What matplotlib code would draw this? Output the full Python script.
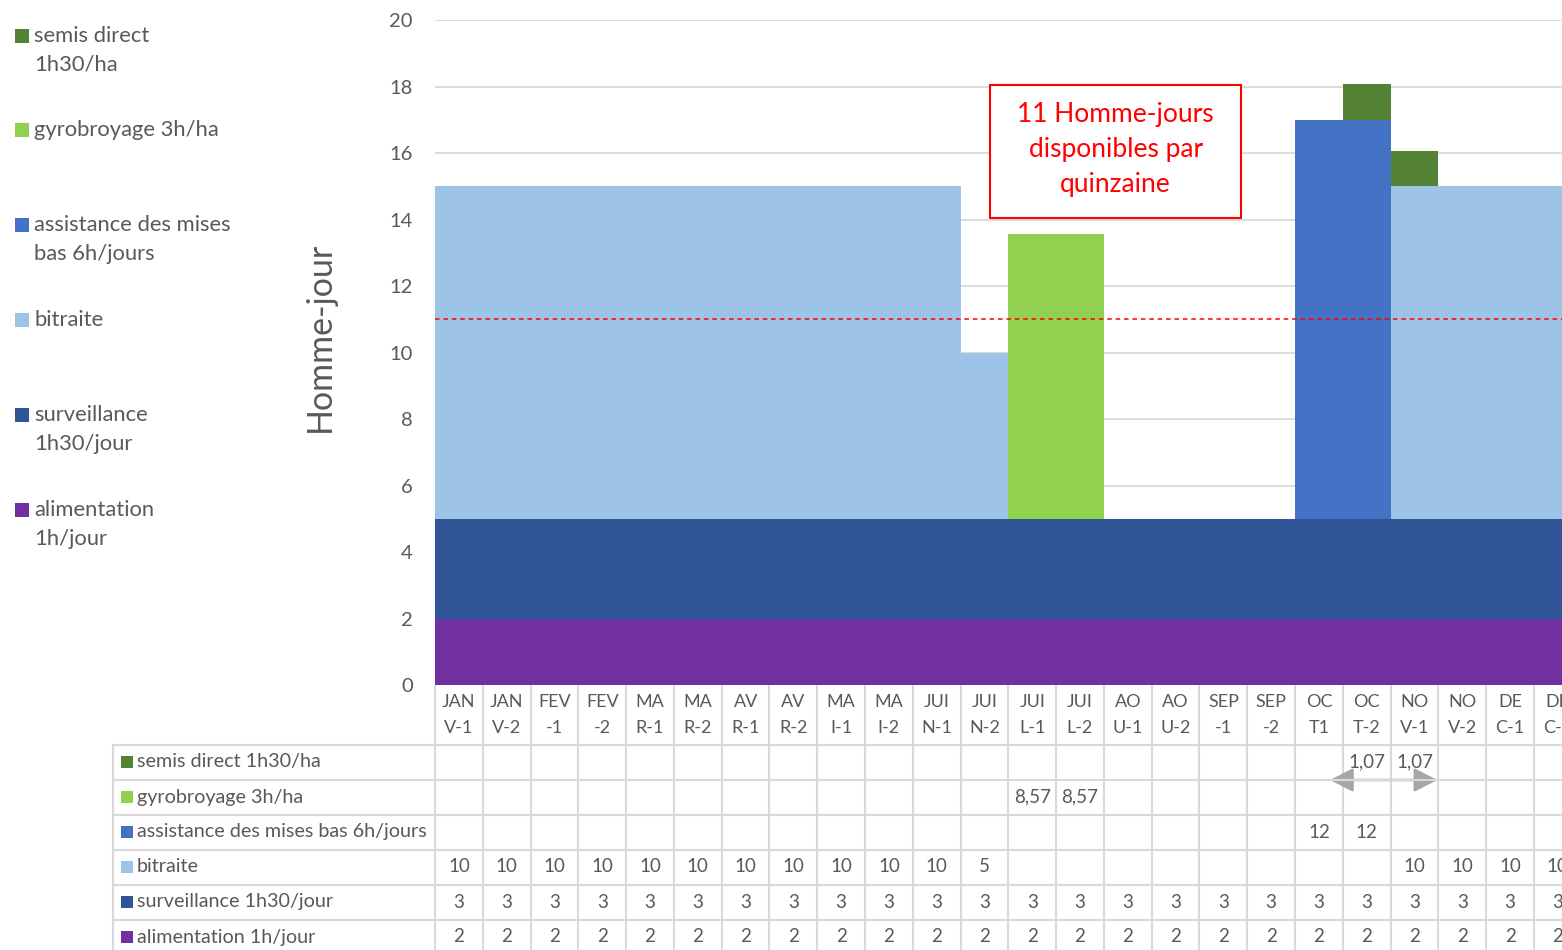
import numpy as np
import matplotlib
matplotlib.use("Agg")
import matplotlib.pyplot as plt
from matplotlib.patches import Rectangle
from matplotlib.lines import Line2D

plt.rcParams["font.family"] = ["Lato", "DejaVu Sans"]

N = None
categories = ["JANV-1", "JANV-2", "FEV-1", "FEV-2", "MAR-1", "MAR-2", "AVR-1", "AVR-2",
              "MAI-1", "MAI-2", "JUIN-1", "JUIN-2", "JUIL-1", "JUIL-2", "AOU-1", "AOU-2",
              "SEP-1", "SEP-2", "OCT1", "OCT-2", "NOV-1", "NOV-2", "DEC-1", "DEC-2"]
tick_labels = ["JAN\nV-1", "JAN\nV-2", "FEV\n-1", "FEV\n-2", "MA\nR-1", "MA\nR-2", "AV\nR-1", "AV\nR-2",
               "MA\nI-1", "MA\nI-2", "JUI\nN-1", "JUI\nN-2", "JUI\nL-1", "JUI\nL-2", "AO\nU-1", "AO\nU-2",
               "SEP\n-1", "SEP\n-2", "OC\nT1", "OC\nT-2", "NO\nV-1", "NO\nV-2", "DE\nC-1", "DE\nC-2"]

alimentation = [2, 2, 2, 2, 2, 2, 2, 2, 2, 2, 2, 2, 2, 2, 2, 2, 2, 2, 2, 2, 2, 2, 2, 2]
surveillance = [3, 3, 3, 3, 3, 3, 3, 3, 3, 3, 3, 3, 3, 3, 3, 3, 3, 3, 3, 3, 3, 3, 3, 3]
bitraite = [10, 10, 10, 10, 10, 10, 10, 10, 10, 10, 10, 5, N, N, N, N, N, N, N, N, 10, 10, 10, 10]
assistance = [N, N, N, N, N, N, N, N, N, N, N, N, N, N, N, N, N, N, 12, 12, N, N, N, N]
gyrobroyage = [N, N, N, N, N, N, N, N, N, N, N, N, 8.57, 8.57, N, N, N, N, N, N, N, N, N, N]
semis = [N, N, N, N, N, N, N, N, N, N, N, N, N, N, N, N, N, N, N, 1.07, 1.07, N, N, N]

capacity = 11

# stacking order bottom -> top
series = [
    ("alimentation 1h/jour", "alimentation\n1h/jour", alimentation, "#7030A0"),
    ("surveillance 1h30/jour", "surveillance\n1h30/jour", surveillance, "#2F5597"),
    ("bitraite", "bitraite", bitraite, "#9DC3E6"),
    ("assistance des mises bas 6h/jours", "assistance des mises\nbas 6h/jours", assistance, "#4472C4"),
    ("gyrobroyage 3h/ha", "gyrobroyage 3h/ha", gyrobroyage, "#92D050"),
    ("semis direct 1h30/ha", "semis direct\n1h30/ha", semis, "#548235"),
]

TXT = "#595959"
GRID = "#D9D9D9"
W, H = 1562, 950
COL = 47.78


def fx(px):
    return px / W


def fy(py):
    return 1 - py / H


def ay(py):
    # pixel row -> axes fraction
    return (685 - py) / 665


fig = plt.figure(figsize=(W / 100, H / 100), dpi=100)
ax = fig.add_axes([fx(435), fy(685), 24 * COL / W, 665 / H])

x = np.arange(len(categories))
bottom = np.zeros(len(categories))
for _, _, vals, color in series:
    v = np.array([0 if a is None else a for a in vals], dtype=float)
    ax.bar(x, v, width=1.0, bottom=bottom, color=color, linewidth=0, zorder=2)
    bottom += v

ax.axhline(capacity, color="#FF0000", lw=1.1, ls=(0, (3, 2.5)), zorder=3)

ax.set_xlim(-0.5, len(categories) - 0.5)
ax.set_ylim(0, 20)
ax.set_yticks(range(0, 21, 2))
ax.set_xticks([])
ax.yaxis.grid(True, color=GRID, lw=1.3)
ax.set_axisbelow(True)
ax.tick_params(axis="y", length=0, pad=16, labelsize=14.5, labelcolor=TXT)
for s in ax.spines.values():
    s.set_visible(False)

fig.text(fx(320), fy(337), "Homme-jour", rotation=90, fontsize=24.5, color=TXT,
         ha="center", va="center")

# annotation box
ax.add_patch(Rectangle((11.12, 14.05), 5.25, 4.0, facecolor="white", edgecolor="#FF0000",
                       lw=1.5, zorder=4))
ax.text(13.745, 16.1, "11 Homme-jours\ndisponibles par\nquinzaine", color="#FF0000",
        fontsize=19, ha="center", va="center", linespacing=1.5, zorder=5)

# legend on the left
leg_y = [36, 130, 225, 320, 415, 510]
for (lab, leg_lab, vals, color), py in zip(series[::-1], leg_y):
    fig.patches.append(Rectangle((fx(15), fy(py + 7)), 14 / W, 14 / H, facecolor=color,
                                 edgecolor="none", transform=fig.transFigure, figure=fig))
    fig.text(fx(34), fy(py - 10), leg_lab, fontsize=15.8, color=TXT, ha="left", va="top",
             linespacing=1.55)

# data table
xt = ax.get_xaxis_transform()
for i, lab in enumerate(tick_labels):
    ax.text(i, ay(715), lab, transform=xt, ha="center", va="center", fontsize=13,
            color=TXT, linespacing=1.75, clip_on=False)

ax.vlines(np.arange(len(categories)) - 0.5, ay(955), 0, transform=xt, colors=GRID,
          lw=1.5, clip_on=False)
row_lines = [745, 780, 815, 850, 885, 920]
for py in row_lines:
    fig.add_artist(Line2D([fx(113), 1], [fy(py), fy(py)], color=GRID, lw=1.5,
                          transform=fig.transFigure))
fig.add_artist(Line2D([fx(113), fx(113)], [fy(745), 0], color=GRID, lw=1.5,
                      transform=fig.transFigure))

row_centers = [762, 797, 832, 867, 902, 937]
for (lab, _, vals, color), py in zip(series[::-1], row_centers):
    fig.patches.append(Rectangle((fx(121), fy(py + 6)), 12 / W, 12 / H, facecolor=color,
                                 edgecolor="none", transform=fig.transFigure, figure=fig))
    fig.text(fx(137), fy(py), lab, fontsize=14.2, color=TXT, ha="left", va="center")
    for i, v in enumerate(vals):
        if v is None:
            continue
        s = str(v).replace(".", ",")
        ax.text(i, ay(py), s, transform=xt, ha="center", va="center", fontsize=13.5,
                color=TXT, clip_on=False)

# double arrow between the semis direct values
ax.annotate("", xy=(20.48, ay(780)), xytext=(18.23, ay(780)), xycoords=xt, textcoords=xt,
            arrowprops=dict(arrowstyle="<|-|>,head_length=0.55,head_width=0.28",
                            color="#A6A6A6", lw=1.8, mutation_scale=26,
                            shrinkA=0, shrinkB=0),
            annotation_clip=False, zorder=6)

fig.savefig("out.png", dpi=100)
